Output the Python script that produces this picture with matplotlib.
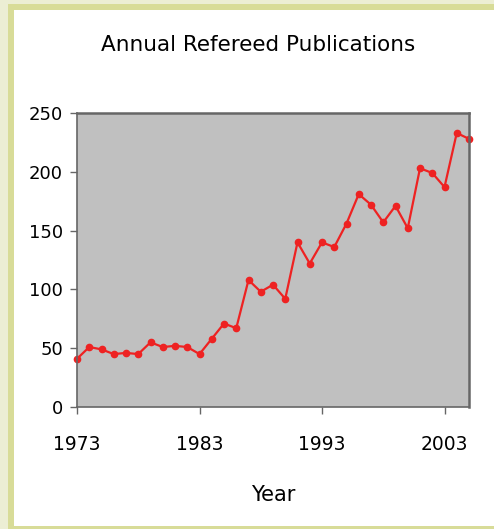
import matplotlib.pyplot as plt
from matplotlib.patches import Rectangle

years = list(range(1973, 2006))
pubs = [41, 51, 49, 45, 46, 45, 55, 51, 52, 51, 45, 58, 71, 67, 108, 98, 104,
        92, 140, 122, 140, 136, 156, 181, 172, 157, 171, 152, 203, 199, 187,
        233, 228]
xticks = [1973, 1983, 1993, 2003]
yticks = [0, 50, 100, 150, 200, 250]

W, H = 494, 529
fig = plt.figure(figsize=(W / 100, H / 100), dpi=100)
fig.patch.set_facecolor('#eceed4')

# olive frame + white panel
fig.patches.append(Rectangle((8 / W, 0), 1, 1 - 4 / H, transform=fig.transFigure,
                             facecolor='#d8dc98', edgecolor='none', zorder=-2))
fig.patches.append(Rectangle((14 / W, 3 / H), 1, 1 - 13 / H, transform=fig.transFigure,
                             facecolor='white', edgecolor='none', zorder=-1))

ax = fig.add_axes([77 / W, 1 - 407 / H, (469 - 77) / W, (407 - 113) / H])
ax.set_zorder(1)
ax.set_facecolor('#c0c0c0')
ax.plot(years, pubs, color='#ee2222', lw=1.6, marker='o', ms=4.5,
        markeredgecolor='#ee2222', clip_on=False)

ax.set_xlim(1973, 2005)
ax.set_ylim(0, 250)
ax.set_xticks(xticks)
ax.set_yticks(yticks)
ax.tick_params(axis='x', length=5, width=1, color='#666666', pad=15,
               labelsize=13.5)
ax.tick_params(axis='y', length=5, width=1, color='#666666', pad=5,
               labelsize=13)
for s in ax.spines.values():
    s.set_color('#666666')
    s.set_linewidth(1.8)
ax.spines['left'].set_linewidth(1.2)
ax.spines['bottom'].set_linewidth(1.2)

fig.text(258 / W, 1 - 45 / H, 'Annual Refereed Publications', ha='center',
         va='center', fontsize=15.5)
fig.text(273 / W, 1 - 495 / H, 'Year', ha='center', va='center', fontsize=15)

fig.savefig('out.png', dpi=100)
